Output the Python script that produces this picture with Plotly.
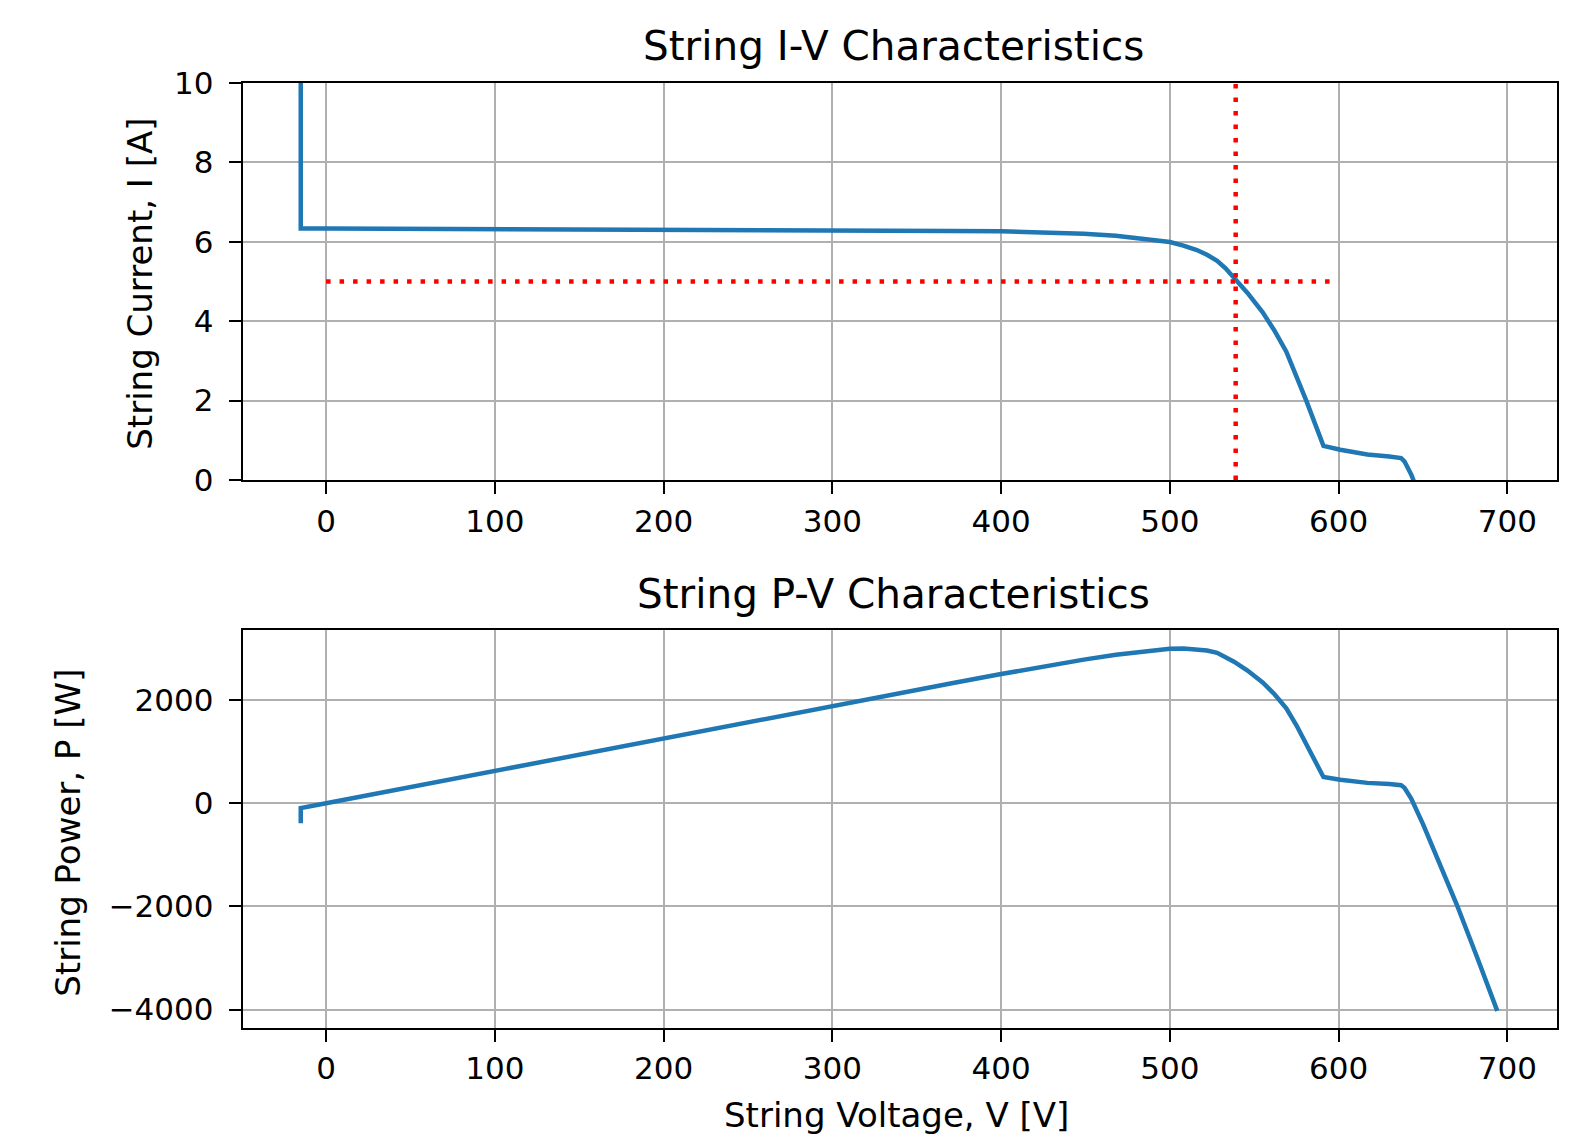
import plotly.graph_objects as go

# ---- data ----
voltage = [-15, -15, 0, 100, 200, 300, 370, 400, 429, 449, 468, 484, 500, 508, 516, 522,
           528, 533, 538, 546, 555, 562, 569, 575, 581, 586, 591, 601, 617, 630, 634,
           637, 639, 641, 643, 650, 660, 670, 682, 694]
current = [26.0, 6.33, 6.33, 6.32, 6.30, 6.29, 6.27, 6.26, 6.24, 6.20, 6.15, 6.08, 5.99,
           5.90, 5.79, 5.67, 5.52, 5.33, 5.10, 4.71, 4.22, 3.76, 3.23, 2.63, 1.98, 1.42,
           0.86, 0.76, 0.64, 0.59, 0.575, 0.55, 0.47, 0.33, 0.14, -0.62, -1.78, -2.93,
           -4.37, -5.80]
power = [-390, -95, 0, 632, 1260, 1887, 2320, 2504, 2677, 2784, 2878, 2943, 2995,
         2997, 2988, 2960, 2915, 2841, 2744, 2572, 2342, 2113, 1838, 1512, 1150, 832,
         508, 457, 395, 372, 365, 350, 300, 212, 90, -403, -1175, -1963, -2980, -4025]

ref_current_v = [0, 600]      # horizontal red dotted line (voltage extent)
ref_current_i = [5, 5]
ref_voltage_v = [539, 539]    # vertical red dotted line
ref_voltage_i = [0, 10]

x_ticks = [0, 100, 200, 300, 400, 500, 600, 700]
i_ticks = [0, 2, 4, 6, 8, 10]
p_ticks = [-4000, -2000, 0, 2000]
p_tick_text = ["\u22124000", "\u22122000", "0", "2000"]

# page placement observed for the rendered page
OX, OY, KY = 8, 24.5, 1143 / 1178
W, H = 1564, 1143
BLUE = "#1f77b4"
FONT = "DejaVu Sans"

fig = go.Figure()
fig.add_trace(go.Scatter(x=voltage, y=current, mode="lines",
                         line=dict(color=BLUE, width=4.5), xaxis="x", yaxis="y",
                         showlegend=False))
fig.add_trace(go.Scatter(x=ref_current_v, y=ref_current_i, mode="lines",
                         line=dict(color="red", width=4.5, dash="4.5px,9px"),
                         xaxis="x", yaxis="y", showlegend=False))
fig.add_trace(go.Scatter(x=ref_voltage_v, y=ref_voltage_i, mode="lines",
                         line=dict(color="red", width=4.5, dash="4.5px,9px"),
                         xaxis="x", yaxis="y", showlegend=False))
fig.add_trace(go.Scatter(x=voltage, y=power, mode="lines",
                         line=dict(color=BLUE, width=4.5), xaxis="x2", yaxis="y2",
                         showlegend=False))

def px_x(p):
    return (p - OX) / W

def px_y(p):
    return 1 - (p / KY - OY) / H

x_dom = [px_x(242.7), px_x(1557)]
common = dict(showline=True, mirror=True, linecolor="black", linewidth=2,
              ticks="outside", ticklen=12, tickwidth=2, tickcolor="black",
              showgrid=True, gridcolor="#b0b0b0", gridwidth=2, zeroline=False,
              tickfont=dict(family=FONT, size=31, color="black"))

fig.update_layout(
    width=W, height=H,
    margin=dict(l=0, r=0, t=0, b=0),
    paper_bgcolor="white", plot_bgcolor="white",
    showlegend=False,
    xaxis=dict(domain=x_dom, anchor="y", range=[-49.4, 729.4],
               tickvals=x_ticks, ticklabelstandoff=1, **common),
    yaxis=dict(domain=[px_y(478.6), px_y(80.7)], anchor="x", range=[0, 10],
               tickvals=i_ticks, ticklabelstandoff=9, **common),
    xaxis2=dict(domain=x_dom, anchor="y2", range=[-49.4, 729.4],
                tickvals=x_ticks, ticklabelstandoff=0, **common),
    yaxis2=dict(domain=[px_y(1027.3), px_y(629.3)], anchor="x2", range=[-4350, 3350],
                tickvals=p_ticks, ticktext=p_tick_text, ticklabelstandoff=9, **common),
)

def ann(text, x, y, size, angle=0):
    fig.add_annotation(text=text, x=px_x(x), y=px_y(y), xref="paper", yref="paper",
                       showarrow=False, textangle=angle, xanchor="center",
                       yanchor="middle",
                       font=dict(family=FONT, size=size, color="black"))

ann("String I-V Characteristics", 893.5, 44, 40.5)
ann("String P-V Characteristics", 893.5, 593, 40.5)
ann("String Voltage, V [V]", 896.5, 1115, 34)
ann("String Current, I [A]", 140, 282, 34, -90)
ann("String Power, P [W]", 68.5, 832.5, 34, -90)

fig.write_html("out.html")
